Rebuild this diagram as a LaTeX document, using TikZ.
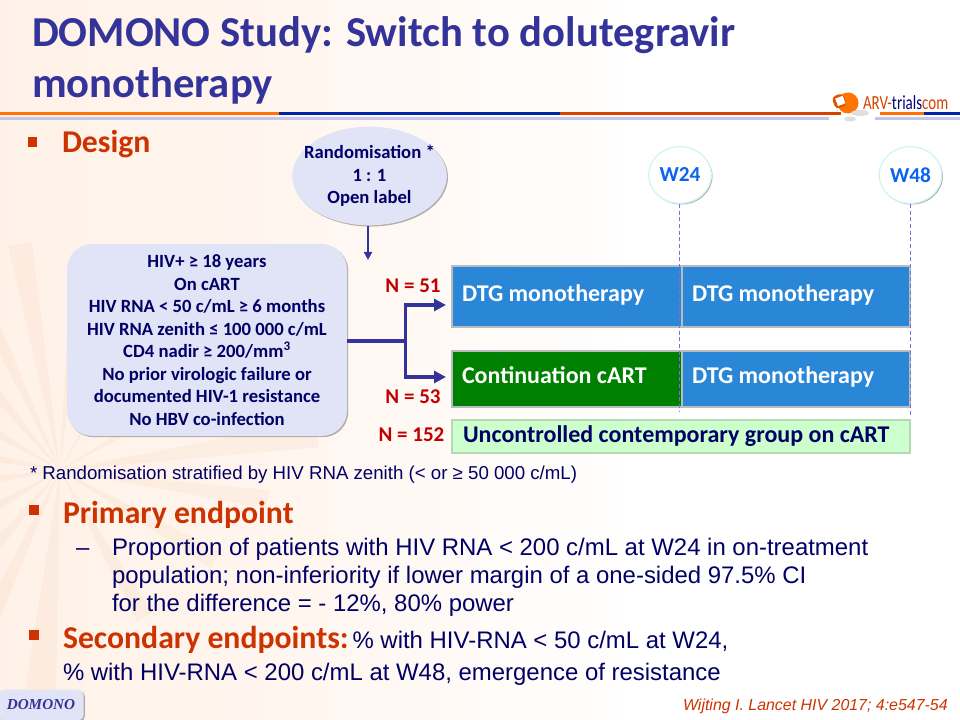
\documentclass[tikz,border=0pt]{standalone}
\usepackage{fontspec}
\setmainfont{Carlito}
\newfontfamily\arialf{Liberation Sans}
\newfontfamily\timesf{Liberation Serif}
\usetikzlibrary{shapes.geometric,arrows.meta,shadows,calc}
\definecolor{titleblue}{HTML}{333399}
\definecolor{navy}{HTML}{000066}
\definecolor{rust}{HTML}{CC3300}
\definecolor{nred}{HTML}{C00000}
\definecolor{lilac}{HTML}{E1E3F6}
\definecolor{barblue}{HTML}{2A87D8}
\definecolor{bargreen}{HTML}{008000}
\definecolor{barlight}{HTML}{CCFFCC}
\definecolor{edgegray}{HTML}{B8BCC0}
\definecolor{weekblue}{HTML}{0A64F0}
\definecolor{dashv}{HTML}{7A70D8}
\definecolor{peach}{HTML}{FFEFE3}
\definecolor{raytan}{HTML}{F3D6BC}
\pgfdeclarehorizontalshading{bgshade}{100bp}{color(0bp)=(peach); color(25bp)=(peach!85!white); color(50bp)=(peach!55!white); color(75bp)=(peach!5!white); color(100bp)=(white)}
\tikzset{
 x=0.75pt,y=-0.75pt,
 txt/.style={anchor=base west,inner sep=0pt,outer sep=0pt},
 titletxt/.style={txt,font=\bfseries\fontsize{32}{32}\selectfont,text=titleblue},
 headtxt/.style={txt,font=\bfseries\fontsize{23.8}{24}\selectfont,text=rust},
 bodytxt/.style={txt,font=\arialf\fontsize{17.95}{18}\selectfont,text=navy},
 blockshadow/.style={drop shadow={shadow xshift=0.9pt,shadow yshift=-0.9pt,fill=black,opacity=0.3}},
 bar/.style={draw=edgegray,line width=1pt},
 bartxt/.style={txt,font=\bfseries\fontsize{18}{18}\selectfont,text=white},
 ntxt/.style={inner sep=0pt,font=\bfseries\fontsize{15.75}{16}\selectfont,text=nred},
 flow/.style={draw=titleblue,line width=2.3pt},
 flowtip/.style={-{Triangle[length=9pt,width=9pt]}},
 weekc/.style={ellipse,draw=edgegray!50!cyan!30!white,line width=0.9pt,fill=white,minimum width=47pt,minimum height=42.5pt,inner sep=0pt,
   font=\bfseries\fontsize{16}{16}\selectfont,text=weekblue,blockshadow},
 weekline/.style={draw=dashv,line width=0.6pt,dash pattern=on 3pt off 2pt},
 sqbullet/.style={fill=rust,draw=none,minimum width=7pt,minimum height=7pt,inner sep=0pt},
 boxtxt/.style={align=center,font=\bfseries\fontsize{14}{16.9}\selectfont,text=navy},
}
\begin{document}
\begin{tikzpicture}
\useasboundingbox (0,0) rectangle (960,720);
\clip (0,0) rectangle (960,720);
\fill[shading=bgshade] (0,0) rectangle (620,720);
% faint rays
\foreach \a/\l/\w in {-100/230/3,-115/210/2.5,-130/170/3,-85/200/2,-150/120/3,-170/100/3,-60/130/2,-30/150/2,-8/260/3,8/210/2.5,30/180/3,60/170/3,95/240/4,115/220/3,130/190/3,150/160/3,172/110/3}
  \fill[raytan,opacity=.22] (60,470) -- ($(60,470)+(\a-\w:\l)$) -- ($(60,470)+(\a+\w:\l)$) -- cycle;
% header rules
\fill[orange!90!red] (0,112.5) rectangle (279,115.5);
\fill[blue!60!black!85!cyan] (279,112.5) rectangle (560,115.5);
\fill[rust!80!orange] (560,112.5) rectangle (841,115.5);
\fill[orange!90!red] (880,112.5) rectangle (924,115.5);
\fill[blue!60!black!85!cyan] (924,112.5) rectangle (960,115.5);
\fill[gray!45!blue!30!white] (0,117.5) rectangle (829,120.5);
\fill[gray!45!blue!30!white] (875,117.5) rectangle (960,120.5);
% logo
\fill[orange!90!red] (848,103) circle (10.5);
\fill[rust!60!orange,rounded corners=3pt,rotate around={20:(841,100)}] (833,94) rectangle (845,107);
\fill[white,rotate around={20:(840,100)}] (836,97) rectangle (844,105);
\fill[gray!25] (860,113) ellipse (9 and 3);
\fill[gray!25] (850,119) ellipse (6 and 2.5);
\node[txt,font=\fontsize{15}{15}\selectfont] (logo) at (863,110) {\scalebox{0.75}[1]{\textcolor{rust!80!orange}{ARV-}\textcolor{blue!50!black}{trials}\textcolor{rust!80!orange}{com}}};
% title
\node[titletxt] (t1) at (32,47) {DOMONO Study: Switch to dolutegravir};
\node[titletxt] (t2) at (32,98) {monotherapy};
% design
\node[sqbullet] (b1) at (32.5,142) {};
\node[headtxt] (h1) at (62,153) {Design};
% randomisation
\node[ellipse,fill=lilac,minimum width=116pt,minimum height=74pt,inner xsep=-10.5pt,inner ysep=0pt,blockshadow,boxtxt] (rand) at (369.5,176) {Randomisation *\\1 : 1\\Open label};
\coordinate (randend) at (368,260);
\draw[draw=titleblue,line width=1.6pt,-{Triangle[length=6pt,width=6pt]}] (rand.south -| randend) -- (randend);
% inclusion box
\node[rounded corners=19pt,fill=lilac,minimum width=210pt,minimum height=144pt,inner sep=0pt,blockshadow,boxtxt] (incl) at (207,340) {HIV+ ≥ 18 years\\On cART\\HIV RNA < 50 c/mL ≥ 6 months\\HIV RNA zenith ≤ 100 000 c/mL\\CD4 nadir ≥ 200/mm\textsuperscript{3}\\No prior virologic failure or\\documented HIV-1 resistance\\No HBV co-infection};
% week markers
\node[weekc] (w24) at (680,175) {W24};
\node[weekc] (w48) at (910.5,175) {W48};
% bars
\path[bar,fill=barblue] (452,266) rectangle (681.2,327);
\path[bar,fill=barblue] (682.8,266) rectangle (910,327);
\path[bar,fill=bargreen] (452,351) rectangle (681.2,407);
\path[bar,fill=barblue] (682.8,351) rectangle (910,407);
\path[bar,fill=barlight,draw=barlight!70!gray] (452,420) rectangle (910,453);
\coordinate (w24end) at (679.5,412);
\coordinate (w48end) at (910.5,415);
\draw[weekline] (w24.south -| w24end) -- (w24end);
\draw[weekline] (w48.south -| w48end) -- (w48end);
\node[bartxt] (l1) at (462,301) {DTG monotherapy};
\node[bartxt] (l2) at (692,301) {DTG monotherapy};
\node[bartxt] (l3) at (462,383) {Continuation cART};
\node[bartxt] (l4) at (692,383) {DTG monotherapy};
\node[bartxt,text=navy] (l5) at (463,442) {Uncontrolled contemporary group on cART};
% arrows
\coordinate (split) at (405.5,341);
\coordinate (up) at (446,305);
\coordinate (down) at (446,377);
\draw[flow] (incl.east |- split) -- (split);
\draw[flow,flowtip] (split) |- (up);
\draw[flow,flowtip] (split) |- (down);
\node[ntxt] (n1) at (413,286) {N = 51};
\node[ntxt] (n2) at (413,397) {N = 53};
\node[ntxt] (n3) at (411.5,435) {N = 152};
% footnote
\node[txt,font=\arialf\fontsize{14}{14}\selectfont,text=navy] (fn) at (30,479) {* Randomisation stratified by HIV RNA zenith (< or ≥ 50 000 c/mL)};
% primary
\node[sqbullet] (b2) at (34,510) {};
\node[headtxt] (h2) at (63,523) {Primary endpoint};
\node[bodytxt] (d) at (76,555) {–};
\node[bodytxt] (p1) at (112,555) {Proportion of patients with HIV RNA < 200 c/mL at W24 in on-treatment};
\node[bodytxt] (p2) at (112,583) {population; non-inferiority if lower margin of a one-sided 97.5\% CI};
\node[bodytxt] (p3) at (112,611) {for the difference = - 12\%, 80\% power};
% secondary
\node[sqbullet] (b3) at (34,635) {};
\node[headtxt] (h3) at (63,648) {Secondary endpoints:};
\node[bodytxt] (s1) at (h3.base east) [xshift=3pt] {\% with HIV-RNA < 50 c/mL at W24,};
\node[bodytxt] (s2) at (63,680) {\% with HIV-RNA < 200 c/mL at W48, emergence of resistance};
% tag
\node[rounded corners=4pt,fill=lilac,minimum width=64pt,minimum height=23pt,inner sep=0pt,blockshadow,
  font=\timesf\bfseries\itshape\fontsize{11.4}{11.4}\selectfont,text=titleblue] (tag) at (41,705) {DOMONO};
% ref
\node[anchor=base east,inner sep=0pt,font=\arialf\itshape\fontsize{11.95}{12}\selectfont,text=rust] (ref) at (948,710) {Wijting I. Lancet HIV 2017; 4:e547-54};
\end{tikzpicture}
\end{document}
